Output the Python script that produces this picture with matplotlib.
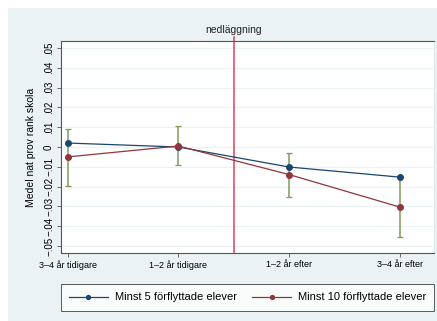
import matplotlib.pyplot as plt
from matplotlib.patches import Rectangle

# =========================
# DATA
# =========================

periods = ["3–4 år tidigare", "1–2 år tidigare", "1–2 år efter", "3–4 år efter"]
x_pos = [1, 2, 3, 4]

minst5 = [0.002, 0.0, -0.0101, -0.0152]
minst10 = [-0.005, 0.0005, -0.0139, -0.0303]

ci_low = [-0.0198, -0.0089, -0.0253, -0.0455]
ci_high = [0.0089, 0.0108, -0.0032, -0.0151]

yticks = [-0.05, -0.04, -0.03, -0.02, -0.01, 0, 0.01, 0.02, 0.03, 0.04, 0.05]
ytick_labels = ["−.05", "−.04", "−.03", "−.02", "−.01", "0",
                ".01", ".02", ".03", ".04", ".05"]

event_x = 2.5

# =========================
# STYLE
# =========================

plt.rcParams["font.family"] = ["Liberation Sans", "DejaVu Sans"]

bg = "#eaf2f3"
blue = "#1a476f"
red = "#90353b"
green = "#809a5c"

fig = plt.figure(figsize=(4.37, 3.21), dpi=100)

fig.patches.append(Rectangle(
    (8 / 437, 0), 1, (321 - 8) / 321,
    transform=fig.transFigure, facecolor=bg, edgecolor="none", zorder=-10
))

ax = fig.add_axes([61 / 437, (321 - 253) / 321, 373 / 437, 212 / 321])
ax.set_facecolor("white")

# =========================
# PLOT
# =========================

for yt in yticks:
    ax.axhline(yt, color=bg, linewidth=0.9, zorder=1)

ax.axvline(event_x, ymax=1.02, color="#e0506e", linewidth=1.2, zorder=2,
           clip_on=False)

ax.errorbar(
    x_pos, minst10,
    yerr=[[m - lo for m, lo in zip(minst10, ci_low)],
          [hi - m for m, hi in zip(minst10, ci_high)]],
    fmt="none", ecolor=green, elinewidth=1.1, capsize=2.5, capthick=0.9,
    zorder=3
)

ax.plot(x_pos, minst5, color=blue, linewidth=0.9, marker="o",
        markersize=4, label="Minst 5 förflyttade elever", zorder=4)
ax.plot(x_pos, minst10, color=red, linewidth=0.9, marker="o",
        markersize=4, label="Minst 10 förflyttade elever", zorder=4)

ax.set_xlim(0.94, 4.31)
ax.set_ylim(-0.0535, 0.0535)

ax.set_xticks(x_pos)
ax.set_xticklabels(periods, fontsize=6.5)
ax.set_yticks(yticks)
ax.set_yticklabels(ytick_labels, fontsize=7, rotation=90, va="center")

ax.tick_params(axis="both", length=3, width=0.6, color="#555555", pad=2)

ax.set_ylabel("Medel nat prov rank skola", fontsize=7.5, labelpad=6)

for side in ["left", "bottom", "top"]:
    ax.spines[side].set_color("#555555")
    ax.spines[side].set_linewidth(0.8)
ax.spines["right"].set_color("#dde6e8")
ax.spines["right"].set_linewidth(0.6)

ax.text(event_x, 0.0565, "nedläggning", ha="center", va="bottom",
        fontsize=7.5, color="#222222")

# =========================
# LEGEND
# =========================

leg = fig.legend(
    loc="center",
    bbox_to_anchor=(64 / 437, 9 / 321, 367 / 437, 29 / 321),
    ncol=2, fontsize=8, frameon=True, fancybox=False,
    handlelength=3.5, handletextpad=0.6, columnspacing=1.4,
    borderpad=0.75, markerscale=0.7, borderaxespad=0,
    edgecolor="#333333"
)
leg.get_frame().set_linewidth(0.7)

plt.savefig("out.png", dpi=100)
